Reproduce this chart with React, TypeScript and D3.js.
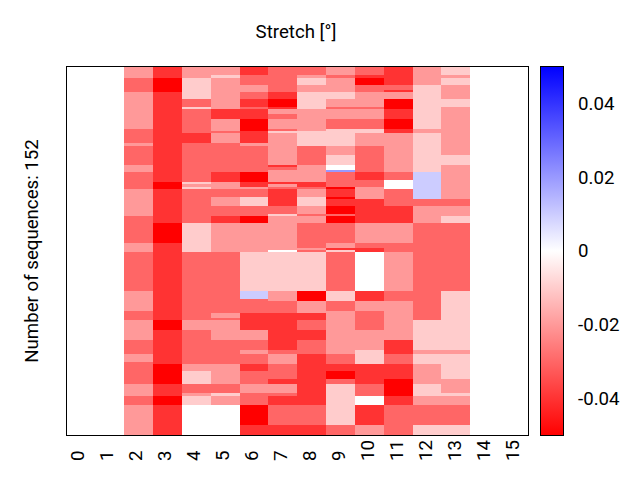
/** App.tsx */
import { useEffect, useRef } from 'react'
import * as d3 from 'd3'

type Run = [number, number] // [sequence position where the run ends, stretch value]

const sequenceCount = 152
const positions = d3.range(16).map(String)
const colorTicks = [-0.04, -0.02, 0, 0.02, 0.04]
const colorDomain = [-0.05, 0, 0.05]

// One list per position, read top to bottom
const col2: Run[] = [[4.5,-0.02],[10.3,-0.03],[25.6,-0.02],[31.4,-0.03],[32.6,-0.02],[40.5,-0.03],[43.4,-0.02],[50.4,-0.03],[61.5,-0.02],[72.7,-0.03],[76.4,-0.02],[92.5,-0.03],[100.8,-0.02],[104.5,-0.03],[112.8,-0.02],[118.5,-0.03],[121.9,-0.02],[130.9,-0.03],[135.9,-0.02],[139.6,-0.03],[152,-0.02]]
const col3: Run[] = [[4.5,-0.04],[10.3,-0.05],[47.5,-0.04],[50.4,-0.05],[64.4,-0.04],[72.7,-0.05],[104.5,-0.04],[108.6,-0.05],[122.7,-0.04],[130.9,-0.05],[135.9,-0.04],[139.6,-0.05],[152,-0.04]]
const col4: Run[] = [[4.5,-0.02],[13.2,-0.01],[16.5,-0.03],[17.3,-0.01],[27.3,-0.03],[31.4,-0.04],[47.5,-0.03],[48.3,-0.01],[49.6,-0.02],[50.4,-0.01],[64.4,-0.03],[76.4,-0.01],[104.5,-0.03],[108.6,-0.02],[122.7,-0.03],[125.6,-0.02],[130.9,-0.01],[134.7,-0.03],[135.9,-0.02],[139.6,-0.01],[152,0]]
const col5: Run[] = [[3.3,-0.02],[4.5,-0.01],[17.3,-0.02],[21.5,-0.04],[26.4,-0.02],[27.3,-0.03],[31.4,-0.02],[43.4,-0.03],[47.5,-0.04],[50.4,-0.02],[53.7,-0.03],[57.4,-0.02],[61.5,-0.03],[64.4,-0.04],[76.4,-0.02],[101.6,-0.03],[103.7,-0.02],[104.5,-0.03],[112.8,-0.02],[122.7,-0.03],[130.9,-0.02],[134.7,-0.03],[135.9,-0.01],[139.6,-0.02],[152,0]]
const col6: Run[] = [[3.3,-0.04],[7.4,-0.03],[10.3,-0.02],[13.2,-0.03],[16.5,-0.04],[17.3,-0.03],[21.5,-0.04],[26.4,-0.05],[31.4,-0.04],[32.6,-0.02],[43.4,-0.03],[47.5,-0.05],[49.6,-0.04],[50.4,-0.02],[53.7,-0.03],[57.4,-0.01],[61.5,-0.03],[64.4,-0.05],[76.4,-0.02],[92.5,-0.01],[95.8,0.01],[101.6,-0.03],[108.6,-0.04],[112.8,-0.02],[116.9,-0.03],[118.5,-0.02],[122.7,-0.03],[125.6,-0.04],[130.9,-0.03],[134.7,-0.02],[139.6,-0.03],[147.9,-0.05],[152,-0.04]]
const col7: Run[] = [[10.3,-0.03],[13.2,-0.04],[16.5,-0.05],[17.3,-0.04],[19.4,-0.02],[21.5,-0.03],[25.6,-0.02],[26.4,-0.03],[27.3,-0.01],[40.5,-0.02],[41.3,-0.04],[42.5,-0.03],[47.5,-0.02],[48.3,-0.04],[49.6,-0.02],[50.4,-0.03],[57.4,-0.04],[60.7,-0.03],[61.5,-0.01],[75.6,-0.02],[76.4,0],[92.5,-0.01],[96.7,-0.02],[101.6,-0.03],[116.9,-0.04],[118.5,-0.03],[122.7,-0.02],[128.9,-0.03],[130.9,-0.04],[134.7,-0.02],[135.9,-0.03],[139.6,-0.04],[147.9,-0.03],[152,-0.04]]
const col8: Run[] = [[3.3,-0.03],[4.5,-0.02],[7.4,-0.01],[10.3,-0.02],[17.3,-0.01],[26.4,-0.02],[32.6,-0.01],[40.5,-0.03],[47.5,-0.02],[49.6,-0.04],[50.4,-0.03],[53.7,-0.02],[57.4,-0.01],[60.7,-0.02],[61.5,-0.03],[64.4,-0.02],[74.8,-0.03],[75.6,-0.02],[76.4,-0.03],[92.5,-0.01],[96.7,-0.05],[101.6,-0.02],[104.5,-0.04],[108.6,-0.03],[112.8,-0.04],[118.5,-0.03],[139.6,-0.04],[147.9,-0.03],[152,-0.04]]
const col9: Run[] = [[3.3,-0.02],[4.5,-0.03],[10.3,-0.02],[13.2,-0.01],[16.5,-0.02],[17.3,-0.03],[21.5,-0.02],[25.6,-0.03],[32.6,-0.01],[36.3,-0.02],[40.5,-0.01],[42.5,0],[43.4,0.02],[49.6,-0.03],[50.4,-0.05],[53.7,-0.04],[54.5,-0.05],[57.4,-0.04],[60.7,-0.05],[61.5,-0.03],[64.4,-0.05],[72.7,-0.03],[74.8,-0.02],[75.6,-0.04],[76.4,-0.01],[92.5,-0.03],[96.7,-0.01],[100.8,-0.03],[118.5,-0.02],[122.7,-0.03],[125.6,-0.04],[128.9,-0.05],[130.9,-0.03],[147.9,-0.01],[152,-0.03]]
const col10: Run[] = [[3.3,-0.03],[4.5,-0.04],[7.4,-0.05],[10.3,-0.03],[16.5,-0.02],[17.3,-0.03],[21.5,-0.02],[25.6,-0.03],[27.3,-0.01],[32.6,-0.02],[43.4,-0.03],[46.7,-0.04],[49.6,-0.03],[54.5,-0.02],[64.4,-0.04],[72.7,-0.02],[74.8,-0.03],[76.4,-0.04],[92.5,0],[96.7,-0.04],[100.8,-0.02],[108.6,-0.03],[116.9,-0.02],[122.7,-0.01],[130.9,-0.04],[135.9,-0.03],[139.6,0],[147.9,-0.04],[152,-0.02]]
const col11: Run[] = [[7.4,-0.04],[9.5,-0.03],[10.3,-0.04],[13.2,-0.02],[17.3,-0.05],[21.5,-0.04],[25.6,-0.05],[27.3,-0.04],[43.4,-0.02],[46.7,-0.03],[50.4,0],[57.4,-0.03],[64.4,-0.04],[72.7,-0.02],[76.4,-0.03],[92.5,-0.02],[96.7,-0.03],[112.8,-0.02],[118.5,-0.04],[122.7,-0.03],[128.9,-0.04],[135.9,-0.05],[139.6,-0.04],[152,-0.03]]
const col12: Run[] = [[7.4,-0.02],[25.6,-0.01],[27.3,-0.02],[43.4,-0.01],[54.5,0.01],[57.4,-0.03],[64.4,-0.02],[104.5,-0.03],[116.9,-0.01],[118.5,-0.02],[122.7,-0.01],[130.9,-0.02],[135.9,-0.01],[139.6,-0.02],[147.9,-0.03],[152,-0.01]]
const col13: Run[] = [[3.3,-0.01],[4.5,-0.02],[7.4,-0.01],[13.2,-0.02],[16.5,-0.01],[36.3,-0.02],[40.5,-0.01],[54.5,-0.02],[57.4,-0.03],[61.5,-0.02],[64.4,-0.01],[92.5,-0.03],[116.9,-0.01],[118.5,-0.02],[128.9,-0.01],[134.7,-0.02],[135.9,-0.01],[139.6,-0.02],[147.9,-0.03],[152,-0.01]]

// Positions 0, 1, 14 and 15 have no data
const columns: Run[][] = [[], [], col2, col3, col4, col5, col6, col7, col8, col9, col10, col11, col12, col13, [], []]

const width = 640
const height = 480
const margin = { left: 67, right: 528, top: 67, bottom: 435 }
const bar = { left: 540, right: 563 }
const fontFamily = 'Roboto'
const fontSize = '18.67px'

const App = () => {
  const svgRef = useRef<SVGSVGElement>(null)

  useEffect(() => {
    const svg = d3.select(svgRef.current)
    svg.selectAll('*').remove()

    const xScale = d3.scaleBand().domain(positions).range([margin.left - 0.6, margin.right])
    // Tick labels are spaced a little wider than the cells
    const xLabelScale = d3.scalePoint().domain(positions).range([77.7, 512.7])
    const yScale = d3.scaleLinear().domain([0, sequenceCount]).range([margin.top, margin.bottom])
    const color = d3.scaleLinear<string>().domain(colorDomain).range(['#ff0000', '#ffffff', '#0000ff'])
    const colorAxisScale = d3.scaleLinear().domain([-0.05, 0.05]).range([margin.bottom, margin.top])

    svg.append('rect').attr('width', width).attr('height', height).attr('fill', '#fff')

    // Heat map cells
    columns.forEach((runs, i) => {
      const g = svg.append('g').attr('shape-rendering', 'crispEdges')
      let start = 0
      runs.forEach(([end, value]) => {
        g.append('rect')
          .attr('x', xScale(positions[i]) as number)
          .attr('width', xScale.bandwidth())
          .attr('y', yScale(start))
          .attr('height', yScale(end) - yScale(start))
          .attr('fill', color(value))
        start = end
      })
    })

    // Frame
    svg
      .append('rect')
      .attr('x', margin.left - 0.5)
      .attr('y', margin.top - 0.5)
      .attr('width', margin.right - margin.left + 1)
      .attr('height', margin.bottom - margin.top + 1)
      .attr('fill', 'none')
      .attr('stroke', '#000')

    // X axis labels
    const xAxis = svg
      .append('g')
      .attr('transform', `translate(0,${margin.bottom})`)
      .call(d3.axisBottom(xLabelScale).tickSize(0).offset(0))
    xAxis.select('.domain').remove()
    xAxis
      .selectAll('text')
      .attr('transform', 'rotate(-90)')
      .attr('x', -26)
      .attr('y', 0)
      .attr('dy', '0.35em')
      .attr('text-anchor', 'start')
      .attr('fill', '#000')
      .style('font-family', fontFamily)
      .style('font-size', fontSize)

    // Colour bar
    const gradient = svg
      .append('defs')
      .append('linearGradient')
      .attr('id', 'stretch-gradient')
      .attr('x1', 0)
      .attr('x2', 0)
      .attr('y1', 1)
      .attr('y2', 0)
    colorDomain.forEach((d, i) => {
      gradient
        .append('stop')
        .attr('offset', `${i * 50}%`)
        .attr('stop-color', color(d))
    })
    svg
      .append('rect')
      .attr('x', bar.left)
      .attr('y', margin.top - 0.5)
      .attr('width', bar.right - bar.left)
      .attr('height', margin.bottom - margin.top + 1)
      .attr('fill', 'url(#stretch-gradient)')
      .attr('stroke', '#000')
      .attr('shape-rendering', 'crispEdges')

    const colorAxis = svg
      .append('g')
      .attr('transform', `translate(${bar.right},0)`)
      .call(
        d3
          .axisRight(colorAxisScale)
          .tickValues(colorTicks)
          .tickSize(0)
          .tickFormat((d) => String(d))
      )
    colorAxis.select('.domain').remove()
    colorAxis
      .selectAll('text')
      .attr('x', 15)
      .attr('fill', '#000')
      .style('font-family', fontFamily)
      .style('font-size', fontSize)

    // Title and sequence count
    svg
      .append('text')
      .attr('x', 296)
      .attr('y', 38)
      .attr('text-anchor', 'middle')
      .style('font-family', fontFamily)
      .style('font-size', fontSize)
      .text('Stretch [°]')
    svg
      .append('text')
      .attr('transform', 'translate(38,251) rotate(-90)')
      .attr('text-anchor', 'middle')
      .style('font-family', fontFamily)
      .style('font-size', fontSize)
      .text('Number of sequences: 152')
  }, [])

  return (
    <svg
      ref={svgRef}
      width={width}
      height={height}
      style={{ position: 'absolute', left: 0, top: 0 }}
    />
  )
}

export default App
